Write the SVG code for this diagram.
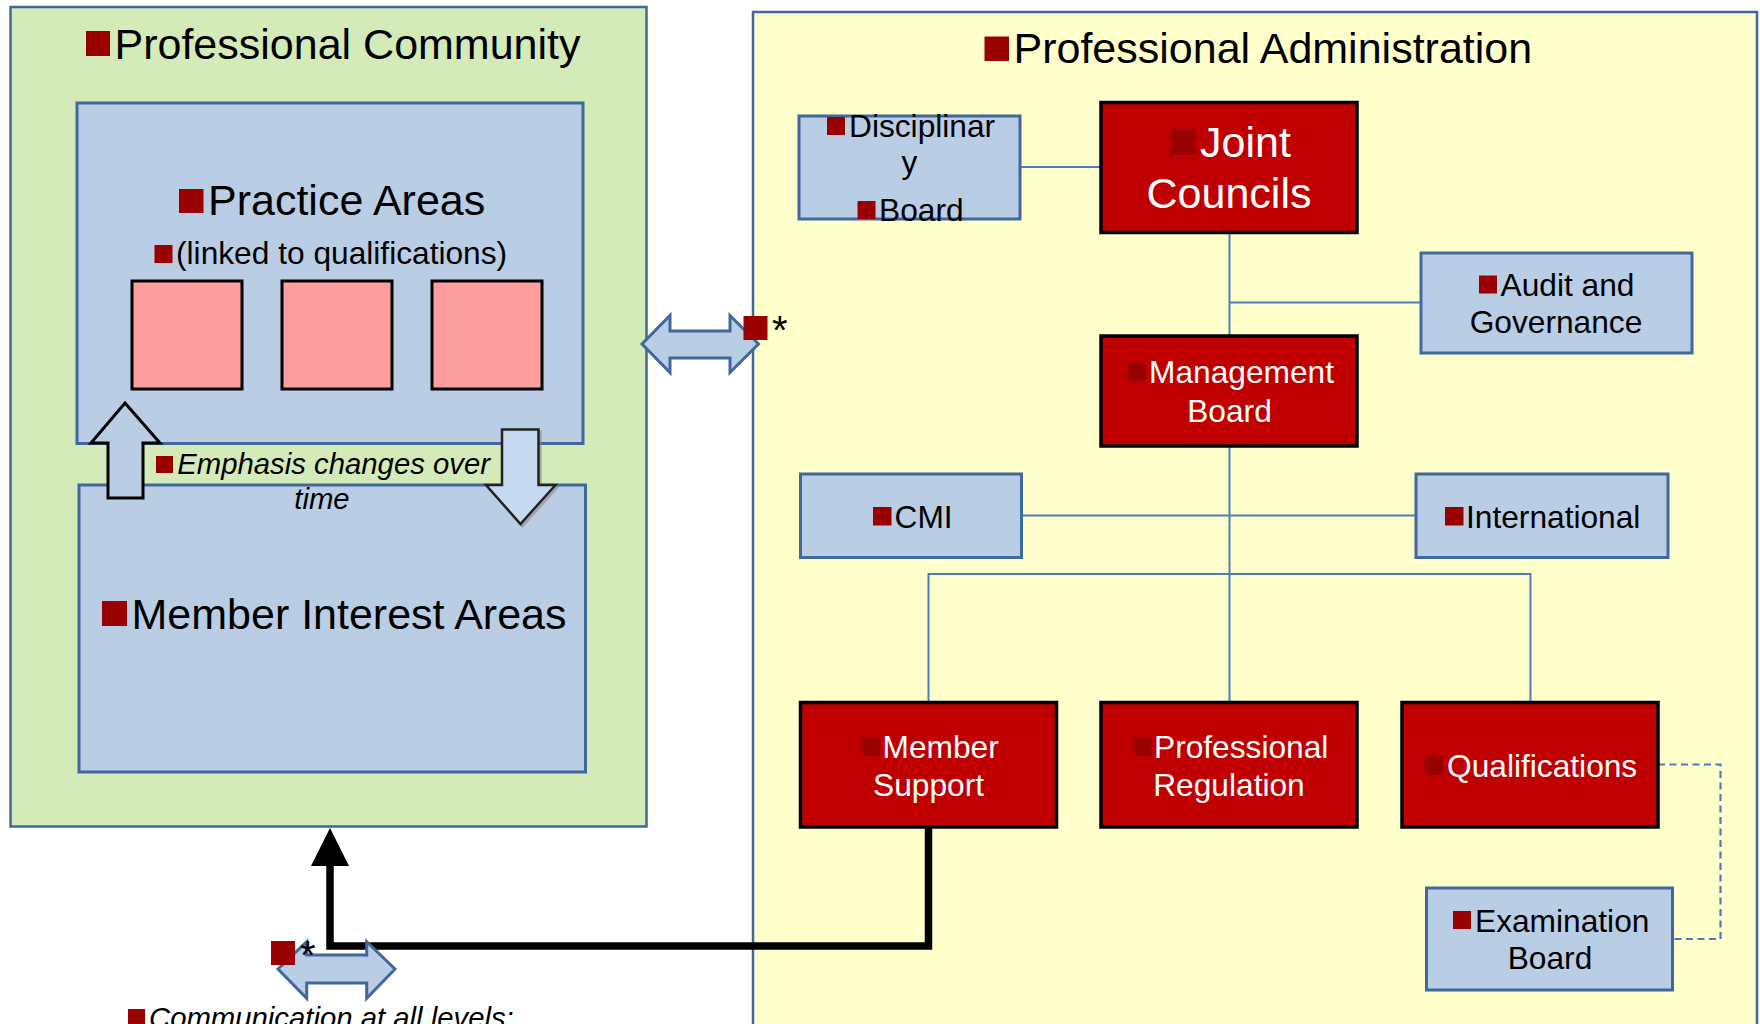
<svg xmlns="http://www.w3.org/2000/svg" width="1760" height="1024" viewBox="0 0 1760 1024">
<defs>
<style>
text{font-family:"Liberation Sans",Arial,sans-serif;fill:#000}
.big{font-size:43px}
.sm{font-size:31.7px}
.it{font-size:29.3px;font-style:italic}
.w{fill:#fff}
.mid{text-anchor:middle}
.blt{fill:#990000}
.bb{fill:#b9cde5;stroke:#41689a;stroke-width:3}
.rb{fill:#c00000;stroke:#000;stroke-width:3.5}
.pk{fill:#ff9e9e;stroke:#000;stroke-width:3}
.con{fill:none;stroke:#4a7ebb;stroke-width:2}
.dash{fill:none;stroke:#4a7ebb;stroke-width:2.2;stroke-dasharray:7 4.5}
.dbl{fill:#b9cde5;stroke:#41689a;stroke-width:3;stroke-linejoin:miter}
.star{font-size:40px}
</style>
<marker id="ah" viewBox="0 0 38 38" refX="0" refY="19" markerWidth="38" markerHeight="38" markerUnits="userSpaceOnUse" orient="auto">
<path d="M0,0 L38,19 L0,38 Z" fill="#000"/>
</marker>
</defs>

<g id="professional-community">
<rect x="10.5" y="7" width="636" height="819.5" fill="#d5eab9" stroke="#41689a" stroke-width="2.5"/>
<rect class="blt" x="86" y="31" width="24" height="25"/>
<text class="big" x="114.5" y="59">Professional Community</text>
</g>

<g id="practice-areas">
<rect class="bb" x="77" y="103" width="506" height="340.5"/>
<rect class="blt" x="179" y="189" width="24.5" height="24"/>
<text class="big" x="208" y="215">Practice Areas</text>
<rect class="blt" x="154.5" y="245" width="18" height="18"/>
<text class="sm" x="176" y="264">(linked to qualifications)</text>
<rect class="pk" x="132" y="281" width="110" height="108"/>
<rect class="pk" x="282" y="281" width="110" height="108"/>
<rect class="pk" x="432" y="281" width="110" height="108"/>
</g>

<g id="member-interest-areas">
<rect class="bb" x="79" y="485" width="506.5" height="287"/>
<rect class="blt" x="102" y="601" width="25" height="25"/>
<text class="big" x="131.5" y="629">Member Interest Areas</text>
</g>

<g id="emphasis-changes">
<path d="M125,403 L160,443 L143,443 L143,498 L108,498 L108,443 L91,443 Z" fill="#b9cde5" stroke="#000" stroke-width="3" stroke-linejoin="miter"/>
<path d="M504,431.5 L540.5,431.5 L540.5,487 L557.5,487 L522.5,526 L488,487 L504,487 Z" fill="none" stroke="#888" stroke-width="2.5" opacity="0.6"/>
<path d="M502,429.5 L538.5,429.5 L538.5,485 L555.5,485 L520.5,524 L486,485 L502,485 Z" fill="#c6d9f1" stroke="#222" stroke-width="2.5" stroke-linejoin="miter"/>
<rect class="blt" x="156" y="456" width="17" height="17"/>
<text class="it" x="177.3" y="474">Emphasis changes over</text>
<text class="it mid" x="322" y="508.5">time</text>
</g>

<g id="professional-administration">
<rect x="753" y="12" width="1004" height="1030" fill="#ffffcc" stroke="#41689a" stroke-width="2.5"/>
<rect class="blt" x="984.5" y="36.5" width="24.5" height="24.5"/>
<text class="big" x="1013.5" y="63">Professional Administration</text>
</g>

<g id="connectors">
<path class="con" d="M1020,167 H1101"/>
<path class="con" d="M1229.5,232.5 V336"/>
<path class="con" d="M1229.5,302.5 H1421"/>
<path class="con" d="M1229.5,446 V702.5"/>
<path class="con" d="M1021.5,515.5 H1416"/>
<path class="con" d="M928.5,702.5 V574 H1530.5 V702.5"/>
<path class="dash" d="M1658,764.5 H1720.5 V939 H1672.5"/>
<path d="M928.5,827 V946 H330 V866" fill="none" stroke="#000" stroke-width="7.5" stroke-linejoin="miter" marker-end="url(#ah)"/>
</g>

<g id="link-community-administration">
<path class="dbl" d="M642,344 L670,315.5 L670,331 L730,331 L730,315.5 L758.5,344 L730,372.5 L730,358 L670,358 L670,372.5 Z"/>
<rect class="blt" x="743.5" y="316" width="24" height="24"/>
<text class="star" x="772" y="344">*</text>
</g>

<g id="communication">
<path class="dbl" d="M278,969 L306.7,941.7 L306.7,955 L366.7,955 L366.7,941.7 L395,969 L366.7,998.3 L366.7,983 L306.7,983 L306.7,998.3 Z"/>
<rect class="blt" x="271" y="941" width="24" height="24"/>
<text class="star" x="300" y="968.5">*</text>
<rect class="blt" x="128" y="1009" width="17" height="17"/>
<text class="it" x="149" y="1028">Communication at all levels:</text>
</g>

<g id="disciplinary-board">
<rect class="bb" x="799" y="116" width="221" height="103"/>
<rect class="blt" x="827" y="117" width="18" height="18"/>
<text class="sm" x="849" y="137">Disciplinar</text>
<text class="sm mid" x="909.5" y="173">y</text>
<rect class="blt" x="857.5" y="201" width="18" height="18"/>
<text class="sm" x="879" y="221">Board</text>
</g>

<g id="joint-councils">
<rect class="rb" x="1101" y="102.5" width="256" height="130"/>
<rect class="blt" x="1171" y="130" width="25" height="25"/>
<text class="big w" x="1200" y="157">Joint</text>
<text class="big w mid" x="1229" y="208">Councils</text>
</g>

<g id="audit-governance">
<rect class="bb" x="1421" y="253" width="271" height="100"/>
<rect class="blt" x="1479" y="275.5" width="18" height="18"/>
<text class="sm" x="1500.5" y="296">Audit and</text>
<text class="sm mid" x="1556" y="333">Governance</text>
</g>

<g id="management-board">
<rect class="rb" x="1101" y="336" width="256" height="110"/>
<rect class="blt" x="1128" y="363" width="18" height="18"/>
<text class="sm w" x="1149" y="383">Management</text>
<text class="sm w mid" x="1229.5" y="421.5">Board</text>
</g>

<g id="cmi">
<rect class="bb" x="800.5" y="474" width="221" height="83.5"/>
<rect class="blt" x="873" y="507" width="18.5" height="18.5"/>
<text class="sm" x="894.5" y="527.5">CMI</text>
</g>

<g id="international">
<rect class="bb" x="1416" y="474" width="252" height="83.5"/>
<rect class="blt" x="1445" y="507" width="18.5" height="18.5"/>
<text class="sm" x="1466" y="527.5">International</text>
</g>

<g id="member-support">
<rect class="rb" x="800.5" y="702.5" width="256" height="124.5"/>
<rect class="blt" x="861" y="737" width="19" height="19"/>
<text class="sm w" x="882.5" y="758">Member</text>
<text class="sm w mid" x="928.5" y="796">Support</text>
</g>

<g id="professional-regulation">
<rect class="rb" x="1101" y="702.5" width="256" height="124.5"/>
<rect class="blt" x="1133" y="737" width="19" height="19"/>
<text class="sm w" x="1154" y="758">Professional</text>
<text class="sm w mid" x="1229" y="796">Regulation</text>
</g>

<g id="qualifications">
<rect class="rb" x="1402" y="702.5" width="256" height="124.5"/>
<rect class="blt" x="1425" y="756" width="19" height="19"/>
<text class="sm w" x="1447" y="777">Qualifications</text>
</g>

<g id="examination-board">
<rect class="bb" x="1426.5" y="888" width="246" height="102"/>
<rect class="blt" x="1453" y="911" width="18" height="18"/>
<text class="sm" x="1475" y="932">Examination</text>
<text class="sm mid" x="1550" y="969">Board</text>
</g>
</svg>
